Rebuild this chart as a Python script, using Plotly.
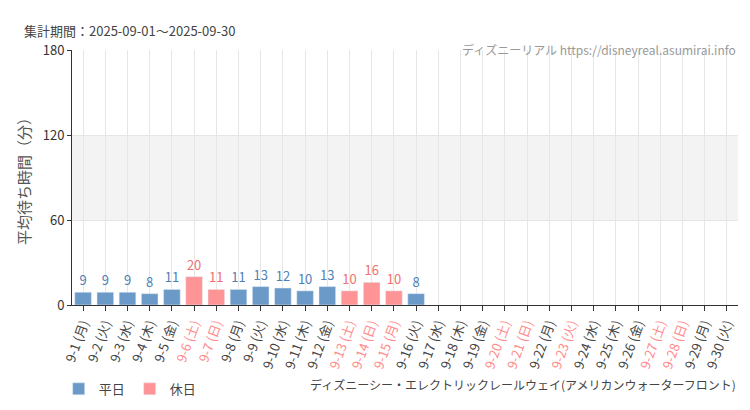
import plotly.graph_objects as go

# 集計データ (2025-09)
days = list(range(1, 31))
weekdays = ["月", "火", "水", "木", "金", "土", "日"]
holidays = [6, 7, 13, 14, 15, 20, 21, 23, 27, 28]
wait = [9, 9, 9, 8, 11, 20, 11, 11, 13, 12, 10, 13, 10, 16, 10, 8] + [None] * 14

labels = [f"9-{d} ({weekdays[(d - 1) % 7]})" for d in days]
ticktext = [f"<span style='color:#ff8a8a'>{l}</span>" if d in holidays else l
            for d, l in zip(days, labels)]

blue = "#6c9ac8"
pink = "#ff9496"
wk_y = [v if (v is not None and d not in holidays) else None for d, v in zip(days, wait)]
ho_y = [v if (v is not None and d in holidays) else None for d, v in zip(days, wait)]

fig = go.Figure()
fig.add_trace(go.Bar(x=labels, y=wk_y, name="平日", marker_color=blue,
                     text=[str(v) if v else "" for v in wk_y], textposition="outside",
                     textfont=dict(color="#4f7fb5", size=13), cliponaxis=False))
fig.add_trace(go.Bar(x=labels, y=ho_y, name="休日", marker_color=pink,
                     text=[str(v) if v else "" for v in ho_y], textposition="outside",
                     textfont=dict(color="#f07070", size=13), cliponaxis=False))

fig.add_hrect(y0=60, y1=120, fillcolor="#f3f3f3", line_width=0, layer="below")

fig.update_layout(
    width=750, height=410, barmode="overlay", bargap=0.25,
    paper_bgcolor="white", plot_bgcolor="white",
    font=dict(family="Noto Sans CJK JP", size=12, color="#444"),
    margin=dict(l=64, r=20, t=42, b=113, autoexpand=False),
    showlegend=True,
    legend=dict(orientation="h", x=-0.02, y=-0.27, xanchor="left", yanchor="top",
                font=dict(size=13)),
)
fig.add_annotation(text="集計期間：2025-09-01～2025-09-30", xref="paper", yref="paper",
                   x=-0.075, y=1.12, xanchor="left", showarrow=False,
                   font=dict(size=13, color="#444"))
fig.add_annotation(text="ディズニーリアル https://disneyreal.asumirai.info", xref="paper", yref="paper",
                   x=1.0, y=1.045, xanchor="right", showarrow=False,
                   font=dict(size=12, color="#999"))
fig.add_annotation(text="ディズニーシー・エレクトリックレールウェイ(アメリカンウォーターフロント)",
                   xref="paper", yref="paper", x=1.0, y=-0.27, xanchor="right", yanchor="top",
                   showarrow=False, font=dict(size=12, color="#444"))

fig.update_xaxes(tickvals=labels, ticktext=ticktext, tickangle=-70,
                 showgrid=True, gridcolor="#e6e6e6", showline=True, linecolor="#333",
                 ticks="outside", ticklen=5, tickcolor="#333", tickfont=dict(size=13))
fig.update_yaxes(range=[0, 180], tickvals=[0, 60, 120, 180], showgrid=True,
                 gridcolor="#e6e6e6", showline=True, linecolor="#333", ticks="outside",
                 ticklen=4, tickcolor="#333", zeroline=False,
                 tickfont=dict(size=13, color="#333"),
                 title=dict(text="平均待ち時間（分）", font=dict(size=15, color="#555"), standoff=8))

fig.write_html("out.html")
